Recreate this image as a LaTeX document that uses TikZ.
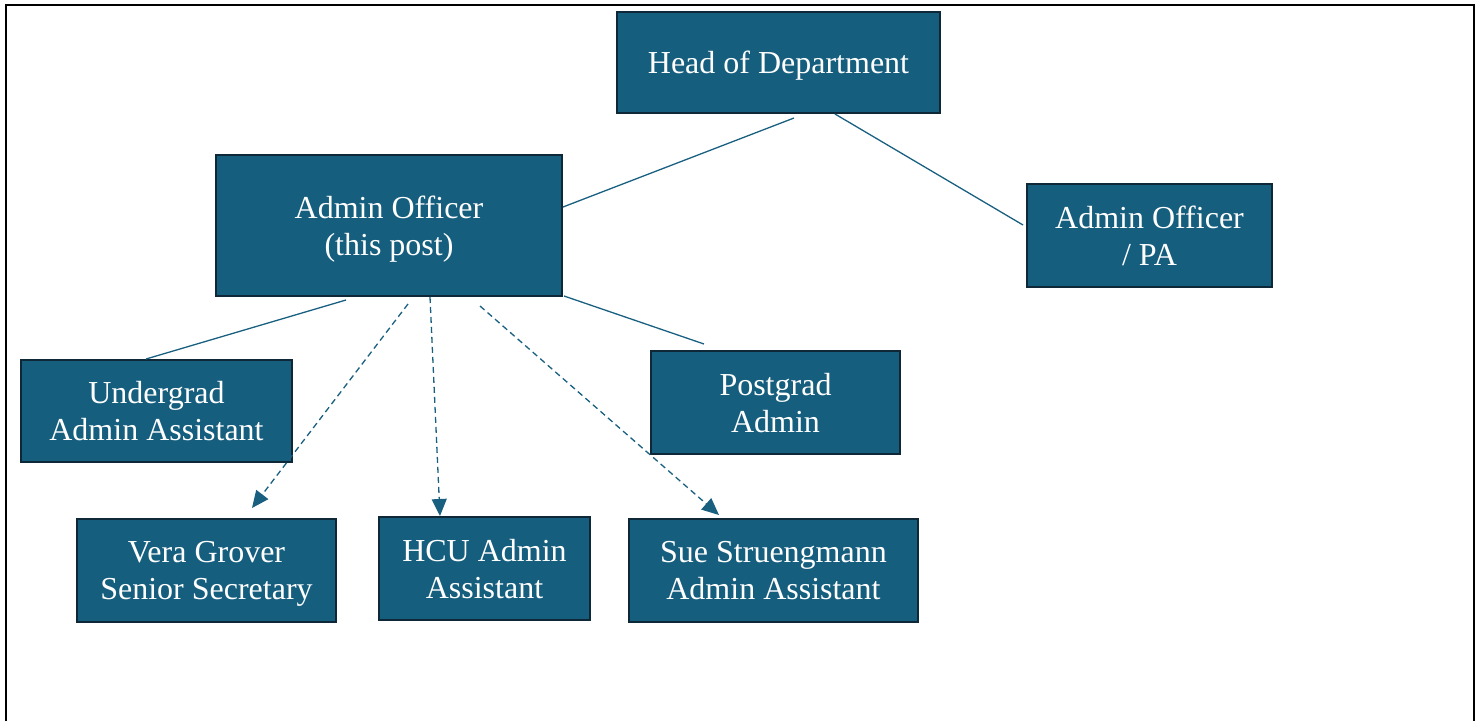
\documentclass[tikz,border=0pt]{standalone}
\usepackage{fontspec}
\setmainfont{Liberation Serif}
\usetikzlibrary{arrows.meta}
\definecolor{boxfill}{RGB}{22,94,126}
\definecolor{boxedge}{RGB}{14,40,56}
\definecolor{linkcol}{RGB}{25,96,128}

\begin{document}
\begin{tikzpicture}[x=1pt, y=-1pt,
    post/.style={draw=boxedge, line width=2pt, fill=boxfill, text=white, align=center,
        inner sep=0pt, minimum height=103pt, text depth=0pt, font=\fontsize{32}{37}\selectfont},
    link/.style={draw=linkcol, line width=1.3pt},
    dotlink/.style={link, dash pattern=on 6pt off 4pt, -{Triangle[length=17pt,width=15pt]}}]
    \useasboundingbox (0,0) rectangle (1476,721);

    % Frame
    \draw[line width=2pt] (6,721) -- (6,4.5) -- (1473.5,4.5) -- (1473.5,721);

    % Nodes
    \node[post, minimum width=323pt, minimum height=101pt] (head) at (778.5,62.5) {Head of Department};
    \node[post, minimum width=346pt, minimum height=141pt] (ao) at (389,225.5) {Admin Officer\\(this post)};
    \node[post, minimum width=245pt] (pa) at (1149.5,235.5) {Admin Officer\\/ PA};
    \node[post, minimum width=271pt, minimum height=102pt] (ug) at (156.5,411) {Undergrad\\Admin Assistant};
    \node[post, minimum width=249pt] (pg) at (775.5,402.5) {Postgrad\\Admin};
    \node[post, minimum width=259pt] (vera) at (206.5,570.5) {Vera Grover\\Senior Secretary};
    \node[post, minimum width=211pt] (hcu) at (484.5,568.5) {HCU Admin\\Assistant};
    \node[post, minimum width=289pt] (sue) at (773.5,570.5) {Sue Struengmann\\Admin Assistant};

    % Lines
    \draw[link] ([xshift=15.5pt,yshift=-4pt]head.south) -- ([yshift=18.5pt]ao.east);
    \draw[link] ([xshift=56.5pt]head.south) -- ([xshift=-3pt,yshift=10.5pt]pa.west);
    \draw[link] ([xshift=-43pt,yshift=-3pt]ao.south) -- ([xshift=-10.5pt]ug.north);
    \draw[link] ([xshift=1pt,yshift=1pt]ao.south east) -- ([xshift=-71.5pt,yshift=6pt]pg.north);

    % Arrows
    \draw[dotlink] ([xshift=19pt,yshift=-7pt]ao.south) -- ([xshift=45.5pt,yshift=10pt]vera.north);
    \draw[dotlink] ([xshift=41pt]ao.south) -- ([xshift=-44.5pt]hcu.north);
    \draw[dotlink] ([xshift=91pt,yshift=-9pt]ao.south) -- ([xshift=-54.5pt,yshift=3pt]sue.north);
\end{tikzpicture}
\end{document}
